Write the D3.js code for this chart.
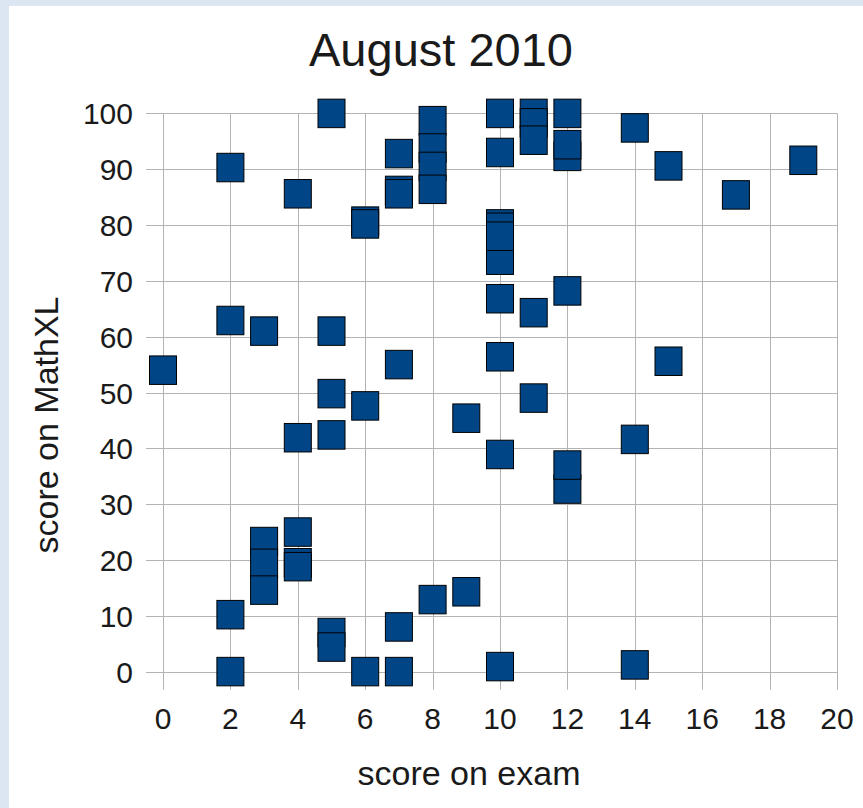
<!DOCTYPE html>
<html>
<head>
<meta charset="utf-8">
<script src="https://cdn.jsdelivr.net/npm/d3@7"></script>
<style>
  body { margin: 0; background: #dce6f3; }
  text { font-family: "Liberation Sans", Arial, sans-serif; fill: #1a1a1a; }
</style>
</head>
<body>
<script>
//scatter of exam score vs MathXL score

//data (draw order matters where squares overlap)
var examScores = [5, 8, 8, 8, 8, 10, 10, 11, 11, 11, 12, 12, 12, 14,
    7, 2, 15, 19, 4, 7, 7, 17, 6, 6, 10, 10, 10, 10,
    10, 12, 11, 2, 3, 5, 10, 15, 7, 0, 5, 11, 6, 9, 4, 5, 14, 10, 12, 12,
    3, 3, 3, 4, 4, 4, 2, 7, 8, 9, 5, 5, 2, 6, 7, 10, 14];
var mathxlScores = [100, 98.7, 93.8, 90.5, 86.4, 100, 93, 100, 98.3, 95.2, 100, 92.3, 94.4, 97.4,
    92.8, 90.3, 90.6, 91.6, 85.6, 86.2, 85.6, 85.4, 80.7, 80.2, 73.7, 80.2, 79.6, 78,
    66.8, 68.2, 64.3, 62.9, 61, 61, 56.4, 55.6, 55, 54, 49.8, 49, 47.6, 45.4, 41.9, 42.4, 41.6, 38.9, 32.7, 37,
    23.3, 19.4, 14.6, 25, 19.5, 18.8, 10.2, 8, 12.9, 14.3, 7, 4.4, 0, 0, 0, 0.9, 1.2];
var xTicks = [0, 2, 4, 6, 8, 10, 12, 14, 16, 18, 20];
var yTicks = [0, 10, 20, 30, 40, 50, 60, 70, 80, 90, 100];
var chartTitle = "August 2010",
    xTitle = "score on exam",
    yTitle = "score on MathXL";

var width = 863,
    height = 808;

var svg = d3.select("body")
    .append("svg")
    .attr("width", width)
    .attr("height", height)
    .style("display", "block");

//white chart page inside the blue frame
svg.append("rect")
    .attr("x", 9)
    .attr("y", 6)
    .attr("width", width - 9)
    .attr("height", height - 6)
    .attr("fill", "#ffffff");

var x = d3.scaleLinear().domain([0, 20]).range([163, 837]);
var y = d3.scaleLinear().domain([0, 100]).range([671.6, 113.4]);

//gridlines + outer ticks, all in the same grey
var grid = svg.append("g").attr("class", "grid");
grid.selectAll(".hgrid")
    .data(yTicks)
    .enter()
    .append("line")
    .attr("x1", x(0) - 17)
    .attr("x2", x(20))
    .attr("y1", function(d){ return Math.round(y(d)) + 0.5; })
    .attr("y2", function(d){ return Math.round(y(d)) + 0.5; })
    .attr("stroke", "#b3b3b3")
    .attr("stroke-width", 1);
grid.selectAll(".vgrid")
    .data(xTicks)
    .enter()
    .append("line")
    .attr("x1", function(d){ return Math.round(x(d)) + 0.5; })
    .attr("x2", function(d){ return Math.round(x(d)) + 0.5; })
    .attr("y1", y(100))
    .attr("y2", y(0) + 18)
    .attr("stroke", "#b3b3b3")
    .attr("stroke-width", 1);

//tick labels
svg.selectAll(".ylab")
    .data(yTicks)
    .enter()
    .append("text")
    .attr("x", 133)
    .attr("y", function(d){ return y(d) + 11; })
    .attr("text-anchor", "end")
    .style("font-size", "30px")
    .text(function(d){ return d; });
svg.selectAll(".xlab")
    .data(xTicks)
    .enter()
    .append("text")
    .attr("x", function(d){ return x(d); })
    .attr("y", 729)
    .attr("text-anchor", "middle")
    .style("font-size", "30px")
    .text(function(d){ return d; });

//markers
var mw = 27, mh = 28.5;
svg.append("g")
    .selectAll("rect")
    .data(examScores.map(function(d, i){ return [d, mathxlScores[i]]; }))
    .enter()
    .append("rect")
    .attr("x", function(d){ return x(d[0]) - mw / 2; })
    .attr("y", function(d){ return y(d[1]) - mh / 2; })
    .attr("width", mw)
    .attr("height", mh)
    .attr("fill", "#004586")
    .attr("stroke", "#000000")
    .attr("stroke-width", 1);

//titles
svg.append("text")
    .attr("x", 441)
    .attr("y", 66)
    .attr("text-anchor", "middle")
    .style("font-size", "47px")
    .text(chartTitle);
svg.append("text")
    .attr("x", 469)
    .attr("y", 785)
    .attr("text-anchor", "middle")
    .style("font-size", "34px")
    .text(xTitle);
svg.append("text")
    .attr("transform", "translate(58,425) rotate(-90)")
    .attr("text-anchor", "middle")
    .style("font-size", "34px")
    .text(yTitle);
</script>
</body>
</html>
